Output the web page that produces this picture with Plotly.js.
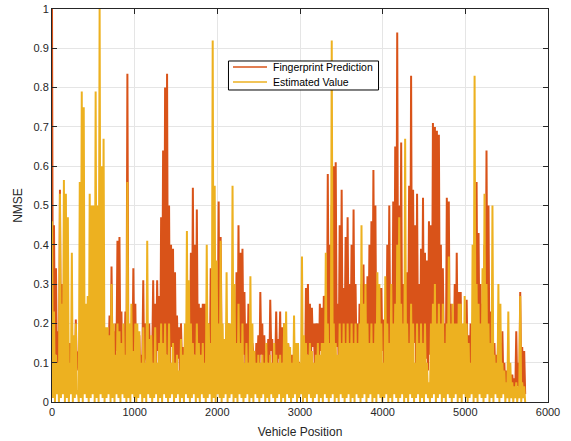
<!DOCTYPE html>
<html><head><meta charset="utf-8">
<script src="https://cdn.plot.ly/plotly-3.0.1.min.js"></script>
<style>html,body{margin:0;padding:0;background:#fff;} #chart{width:571px;height:441px;}</style>
</head><body><div id="chart"></div>
<script>
// spacing (vehicle-position units) between successive read samples
const step = 24;

// Fingerprint Prediction: local peaks
const fpPeak = [
1.0,0.45,0.34,0.18,0.54,0.3,0.2,0.3,0.1,0.15,
0.1,0.08,0.21,0.12,0.1,0.5,0.2,0.15,0.1,0.2,
0.15,0.3,0.2,0.3,0.49,0.46,0.2,0.15,0.1,0.22,
0.345,0.18,0.2,0.41,0.42,0.23,0.15,0.23,0.835,0.15,
0.12,0.34,0.25,0.1,0.17,0.12,0.31,0.2,0.1,0.2,
0.08,0.31,0.25,0.31,0.27,0.47,0.64,0.8,0.835,0.5,
0.4,0.39,0.33,0.22,0.19,0.2,0.14,0.1,0.15,0.1,
0.38,0.545,0.4,0.49,0.25,0.24,0.25,0.25,0.15,0.2,
0.34,0.31,0.3,0.31,0.51,0.42,0.15,0.1,0.2,0.2,
0.15,0.2,0.2,0.33,0.45,0.38,0.39,0.28,0.2,0.25,
0.2,0.15,0.1,0.15,0.17,0.28,0.2,0.17,0.13,0.16,
0.26,0.16,0.1,0.23,0.16,0.23,0.19,0.2,0.12,0.15,
0.1,0.12,0.1,0.12,0.1,0.08,0.1,0.15,0.29,0.3,
0.25,0.24,0.2,0.2,0.2,0.25,0.24,0.27,0.27,0.58,
0.4,0.5,0.6,0.61,0.25,0.45,0.54,0.29,0.42,0.47,
0.3,0.4,0.49,0.3,0.2,0.25,0.3,0.35,0.3,0.32,
0.4,0.46,0.59,0.5,0.3,0.29,0.29,0.21,0.19,0.4,
0.5,0.3,0.51,0.65,0.94,0.5,0.66,0.3,0.25,0.33,
0.55,0.83,0.54,0.45,0.53,0.3,0.39,0.52,0.38,0.36,
0.46,0.45,0.71,0.7,0.69,0.68,0.4,0.34,0.2,0.52,
0.51,0.25,0.2,0.3,0.38,0.28,0.28,0.19,0.2,0.26,
0.17,0.2,0.15,0.3,0.56,0.43,0.3,0.25,0.4,0.64,
0.5,0.23,0.2,0.15,0.12,0.2,0.15,0.18,0.1,0.08,
0.1,0.07,0.07,0.06,0.18,0.1,0.28,0.14,0.13
];
// Fingerprint Prediction: dips between those peaks
const fpLow = [
0.05,0.12,0.08,0.03,0.1,0.06,0.14,0.04,0.09,0.07,
0.11,0.04,0.08,0.13,0.05,0.09,0.03,0.12,0.06,0.1,
0.04,0.08,0.14,0.05,0.11,0.07,0.03,0.09,0.12,0.06,
0.1,0.04,0.13,0.07,0.09,0.05,0.12,0.03,0.08,0.11,
0.06,0.1,0.04,0.14,0.07,0.09,0.05,0.12,0.03,0.08,
0.11,0.06,0.09,0.13,0.04,0.1,0.07,0.12,0.05,0.09,
0.14,0.03,0.08,0.11,0.06,0.1,0.04,0.13,0.07,0.09,
0.05,0.12,0.08,0.1,0.03,0.11,0.06,0.09,0.14,0.04,
0.07,0.12,0.05,0.1,0.08,0.13,0.04,0.09,0.06,0.11,
0.1,0.05,0.13,0.07,0.09,0.04,0.12,0.08,0.06,0.1,
0.03,0.11,0.07,0.09,0.05,0.12,0.04,0.08,0.1,0.06,
0.13,0.05,0.09,0.07,0.11,0.04,0.1,0.06,0.08,0.12,
0.05,0.09,0.03,0.07,0.1,0.06,0.08,0.04,0.12,0.09,
0.1,0.14,0.07,0.11,0.05,0.13,0.08,0.12,0.06,0.15,
0.1,0.13,0.08,0.14,0.09,0.12,0.07,0.15,0.1,0.11,
0.13,0.08,0.12,0.1,0.06,0.14,0.09,0.11,0.07,0.13,
0.1,0.12,0.15,0.08,0.11,0.07,0.13,0.06,0.09,0.12,
0.14,0.08,0.11,0.13,0.1,0.15,0.09,0.12,0.07,0.1,
0.13,0.11,0.15,0.08,0.12,0.09,0.14,0.1,0.11,0.08,
0.12,0.1,0.14,0.13,0.11,0.15,0.09,0.12,0.07,0.13,
0.1,0.08,0.12,0.06,0.11,0.09,0.07,0.1,0.05,0.08,
0.06,0.09,0.04,0.08,0.12,0.1,0.07,0.09,0.11,0.13,
0.08,0.06,0.09,0.05,0.07,0.04,0.06,0.05,0.03,0.04,
0.03,0.02,0.03,0.02,0.04,0.03,0.05,0.03,0.02
];
// Estimated Value: local peaks
const evPeak = [
0.46,0.23,0.12,0.1,0.53,0.25,0.565,0.53,0.47,0.1,
0.38,0.17,0.2,0.03,0.56,0.79,0.75,0.25,0.27,0.53,
0.5,0.5,0.79,0.5,1.0,0.6,0.67,0.19,0.19,0.17,
0.3,0.2,0.12,0.2,0.18,0.15,0.2,0.12,0.56,0.2,
0.25,0.13,0.2,0.2,0.18,0.1,0.19,0.1,0.41,0.16,
0.17,0.1,0.19,0.1,0.15,0.2,0.15,0.2,0.12,0.2,
0.1,0.15,0.1,0.12,0.08,0.16,0.12,0.2,0.435,0.31,
0.2,0.15,0.12,0.2,0.15,0.12,0.15,0.1,0.4,0.2,
0.15,0.92,0.55,0.36,0.2,0.41,0.2,0.16,0.33,0.2,
0.2,0.55,0.3,0.15,0.25,0.15,0.2,0.1,0.15,0.1,
0.32,0.2,0.13,0.1,0.12,0.1,0.12,0.1,0.15,0.1,
0.12,0.1,0.15,0.12,0.1,0.12,0.1,0.2,0.23,0.15,
0.14,0.1,0.22,0.15,0.15,0.1,0.37,0.17,0.15,0.12,
0.15,0.13,0.1,0.12,0.15,0.12,0.15,0.15,0.38,0.2,
0.15,0.92,0.2,0.15,0.12,0.2,0.15,0.2,0.15,0.2,
0.15,0.2,0.15,0.2,0.15,0.2,0.45,0.25,0.3,0.2,
0.15,0.2,0.15,0.2,0.33,0.3,0.2,0.1,0.32,0.2,
0.15,0.3,0.2,0.25,0.4,0.47,0.25,0.2,0.67,0.2,
0.15,0.25,0.2,0.1,0.2,0.15,0.2,0.15,0.2,0.1,
0.05,0.2,0.25,0.3,0.2,0.25,0.2,0.25,0.15,0.2,
0.37,0.2,0.25,0.2,0.2,0.25,0.25,0.2,0.27,0.2,
0.15,0.1,0.4,0.83,0.3,0.25,0.2,0.34,0.53,0.3,
0.2,0.15,0.5,0.12,0.1,0.3,0.25,0.1,0.08,0.05,
0.23,0.1,0.05,0.04,0.05,0.04,0.27,0.05,0.04
];
// Estimated Value: dips between those peaks (the series keeps touching zero)
const evLow = [
0.01,0.0,0.02,0.0,0.01,0.02,0.0,0.01,0.0,0.02,
0.0,0.01,0.02,0.0,0.01,0.0,0.02,0.01,0.0,0.01,
0.02,0.0,0.01,0.0,0.02,0.01,0.0,0.01,0.02,0.0,
0.01,0.0,0.02,0.01,0.0,0.02,0.01,0.0,0.01,0.0,
0.02,0.01,0.0,0.01,0.02,0.0,0.01,0.0,0.02,0.01,
0.0,0.01,0.02,0.0,0.01,0.0,0.02,0.01,0.0,0.01,
0.02,0.0,0.01,0.02,0.0,0.01,0.0,0.02,0.01,0.0,
0.01,0.02,0.0,0.01,0.0,0.02,0.01,0.0,0.01,0.02,
0.0,0.01,0.0,0.02,0.01,0.0,0.01,0.02,0.0,0.01,
0.02,0.0,0.01,0.0,0.02,0.01,0.0,0.01,0.02,0.0,
0.01,0.0,0.02,0.01,0.0,0.01,0.02,0.0,0.01,0.0,
0.02,0.01,0.0,0.01,0.02,0.0,0.01,0.0,0.02,0.01,
0.0,0.01,0.02,0.0,0.01,0.02,0.0,0.01,0.0,0.02,
0.01,0.0,0.01,0.02,0.0,0.01,0.0,0.02,0.01,0.0,
0.01,0.02,0.0,0.01,0.0,0.02,0.01,0.0,0.01,0.02,
0.0,0.01,0.0,0.02,0.01,0.0,0.01,0.02,0.0,0.01,
0.02,0.0,0.01,0.0,0.02,0.01,0.0,0.01,0.02,0.0,
0.01,0.0,0.02,0.01,0.0,0.01,0.02,0.0,0.01,0.0,
0.02,0.01,0.0,0.01,0.02,0.0,0.01,0.0,0.02,0.01,
0.0,0.01,0.02,0.0,0.01,0.02,0.0,0.01,0.0,0.02,
0.01,0.0,0.01,0.02,0.0,0.01,0.0,0.02,0.01,0.0,
0.01,0.02,0.0,0.01,0.0,0.02,0.01,0.0,0.01,0.02,
0.0,0.01,0.0,0.02,0.01,0.0,0.01,0.02,0.0,0.01,
0.0,0.01,0.0,0.01,0.0,0.01,0.0,0.01,0.0
];

const seriesNames = ['Fingerprint Prediction', 'Estimated Value'];
const seriesColors = ['#D95319', '#EDB120'];

function build(peaks, lows) {
  const x = [], y = [];
  for (let i = 0; i < peaks.length; i++) {
    x.push(i * step); y.push(peaks[i]);
    x.push(i * step + step / 2); y.push(lows[i]);
  }
  return {x, y};
}
const fp = build(fpPeak, fpLow);
const ev = build(evPeak, evLow);

const font = 'Liberation Sans, Arial, Helvetica, sans-serif';
const axisCommon = {
  showline: true, linecolor: '#262626', linewidth: 1, mirror: 'ticks',
  ticks: 'inside', ticklen: 5, tickcolor: '#262626', tickwidth: 1,
  showgrid: true, gridcolor: '#e5e5e5', gridwidth: 1, zeroline: false,
  tickfont: {family: font, size: 11, color: '#262626'}
};

const data = [
  {x: fp.x, y: fp.y, type: 'scatter', mode: 'lines', name: seriesNames[0],
   line: {color: seriesColors[0], width: 2}, showlegend: false},
  {x: ev.x, y: ev.y, type: 'scatter', mode: 'lines', name: seriesNames[1],
   line: {color: seriesColors[1], width: 2}, showlegend: false}
];

// legend drawn as a box with sample lines and labels (paper coordinates)
const lgX0 = 0.3558, lgX1 = 0.6583, lgY0 = 0.7939, lgY1 = 0.8677;
const lgRows = [0.8524, 0.8142];
const shapes = [
  {type: 'rect', xref: 'paper', yref: 'paper', x0: lgX0, x1: lgX1, y0: lgY0, y1: lgY1,
   line: {color: '#000', width: 1}, fillcolor: '#fff', layer: 'above'}
];
const annotations = [];
seriesNames.forEach((n, k) => {
  shapes.push({type: 'line', xref: 'paper', yref: 'paper', x0: 0.3649, x1: 0.4335,
    y0: lgRows[k], y1: lgRows[k], line: {color: seriesColors[k], width: 1.5}, layer: 'above'});
  annotations.push({xref: 'paper', yref: 'paper', x: 0.4425, y: lgRows[k], xanchor: 'left',
    yanchor: 'middle', text: n, showarrow: false,
    font: {family: font, size: 10.5, color: '#000'}});
});

const layout = {
  width: 571, height: 441,
  margin: {l: 52, r: 23, t: 9, b: 39},
  paper_bgcolor: '#fff', plot_bgcolor: '#fff',
  font: {family: font, color: '#262626'},
  showlegend: false,
  shapes: shapes, annotations: annotations,
  xaxis: Object.assign({}, axisCommon, {range: [0, 6000], tick0: 0, dtick: 1000,
    title: {text: 'Vehicle Position', font: {family: font, size: 12, color: '#262626'}, standoff: 10}}),
  yaxis: Object.assign({}, axisCommon, {range: [0, 1], tick0: 0, dtick: 0.1,
    title: {text: 'NMSE', font: {family: font, size: 12, color: '#262626'}, standoff: 8}})
};

Plotly.newPlot('chart', data, layout, {staticPlot: true, displayModeBar: false});
</script>
</body></html>
